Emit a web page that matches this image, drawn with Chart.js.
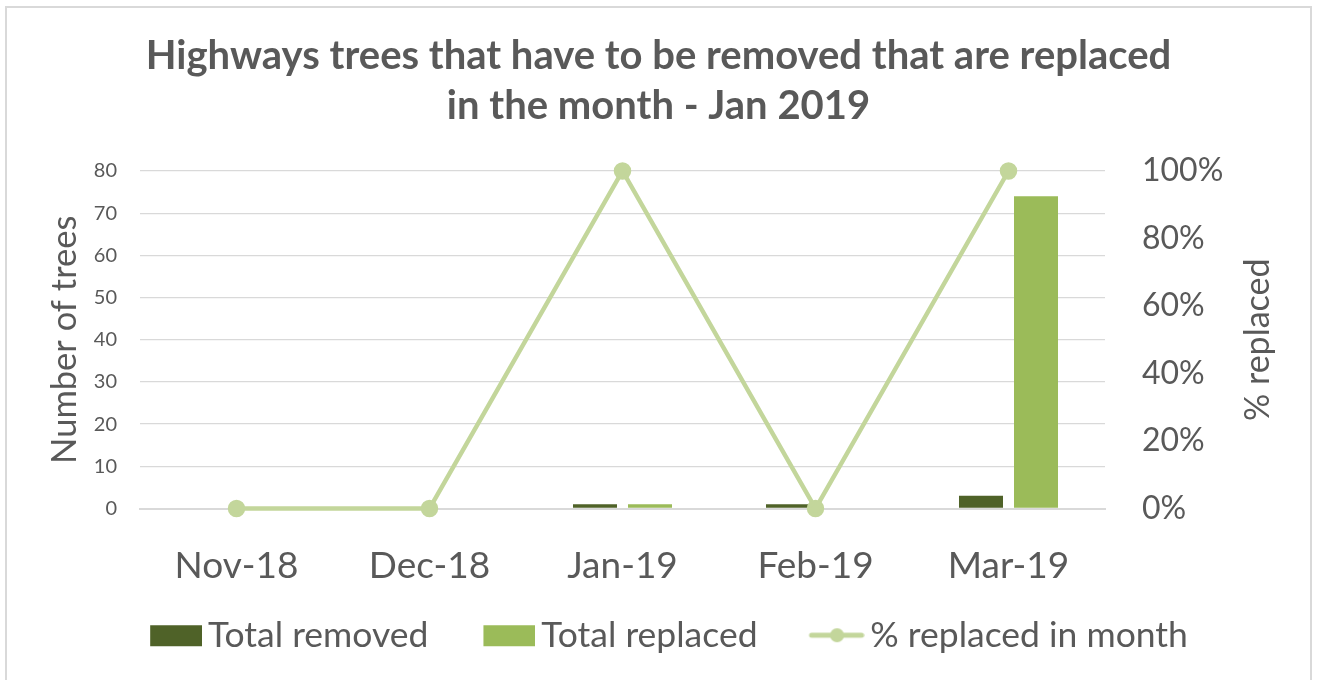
<!DOCTYPE html>
<html lang="en">

<head>
    <meta charset="UTF-8" />
    <title>Highways trees</title>
    <script src="https://cdn.jsdelivr.net/npm/chart.js"></script>
    <style>
        body {
            margin: 0;
            padding: 0;
            background: #fff;
            overflow: hidden;
        }

        .chart-container {
            position: relative;
            width: 1317px;
            height: 680px;
        }

        .frame {
            position: absolute;
            left: 5px;
            top: 6px;
            width: 1303px;
            height: 700px;
            border: 2px solid #d9d9d9;
            pointer-events: none;
        }
    </style>
</head>

<body>
    <div class="chart-container">
        <canvas id="myChart"></canvas>
        <div class="frame"></div>
    </div>

    <script>
        // Chart data
        const months = ["Nov-18", "Dec-18", "Jan-19", "Feb-19", "Mar-19"];
        const totalRemoved = [0, 0, 1, 1, 3];
        const totalReplaced = [0, 0, 1, 0, 74];
        const pctReplaced = [0, 0, 100, 0, 100];
        const treeTicks = [0, 10, 20, 30, 40, 50, 60, 70, 80];
        const pctTicks = [0, 20, 40, 60, 80, 100];

        const textColor = "#595959";
        const darkGreen = "#4f6228";
        const green = "#9bbb59";
        const lightGreen = "#c3d69b";

        Chart.defaults.font.family = "Lato";
        Chart.defaults.color = textColor;

        // legend swatches: drawn at the right of a wider image so the
        // gap to the text is small and the gap to the previous item large
        function swatch(draw) {
            const c = document.createElement("canvas");
            c.width = 85;
            c.height = 24;
            draw(c.getContext("2d"));
            return c;
        }
        const swatches = [
            swatch((g) => { g.fillStyle = darkGreen; g.fillRect(33, 2, 52, 21); }),
            swatch((g) => { g.fillStyle = green; g.fillRect(33, 2, 52, 21); }),
            swatch((g) => {
                g.strokeStyle = lightGreen;
                g.fillStyle = lightGreen;
                g.lineWidth = 5;
                g.lineCap = "round";
                g.beginPath(); g.moveTo(32, 12); g.lineTo(82, 12); g.stroke();
                g.beginPath(); g.arc(57.5, 12, 7, 0, Math.PI * 2); g.fill();
            }),
        ];

        // right axis title reads bottom-to-top like the left one
        const rightTitle = {
            id: "rightTitle",
            afterDraw(chart) {
                const ctx = chart.ctx;
                const area = chart.chartArea;
                ctx.save();
                ctx.translate(1258, (area.top + area.bottom) / 2);
                ctx.rotate(-Math.PI / 2);
                ctx.font = "34px Lato";
                ctx.fillStyle = textColor;
                ctx.textAlign = "center";
                ctx.textBaseline = "middle";
                ctx.fillText("% replaced", 0, 0);
                ctx.restore();
            },
        };

        const ctx = document.getElementById("myChart").getContext("2d");
        const myChart = new Chart(ctx, {
            data: {
                labels: months,
                datasets: [
                    {
                        type: "bar",
                        label: "Total removed",
                        data: totalRemoved,
                        backgroundColor: darkGreen,
                        yAxisID: "y",
                        order: 1,
                        categoryPercentage: 0.57,
                        barPercentage: 0.8,
                    },
                    {
                        type: "bar",
                        label: "Total replaced",
                        data: totalReplaced,
                        backgroundColor: green,
                        yAxisID: "y",
                        order: 1,
                        categoryPercentage: 0.57,
                        barPercentage: 0.8,
                    },
                    {
                        type: "line",
                        label: "% replaced in month",
                        data: pctReplaced,
                        borderColor: lightGreen,
                        backgroundColor: lightGreen,
                        borderWidth: 4.5,
                        pointRadius: 6.5,
                        pointBackgroundColor: lightGreen,
                        pointBorderColor: lightGreen,
                        tension: 0,
                        clip: false,
                        yAxisID: "y1",
                        order: 0,
                    },
                ],
            },
            options: {
                responsive: true,
                maintainAspectRatio: false,
                animation: false,
                layout: {
                    padding: { left: 0, right: 0, top: 0, bottom: 17 },
                },
                plugins: {
                    title: {
                        display: true,
                        text: [
                            "Highways trees that have to be removed that are replaced",
                            "in the month - Jan 2019",
                        ],
                        color: textColor,
                        font: { size: 40, weight: "bold", lineHeight: 1.25 },
                        padding: { top: 31, bottom: 40 },
                    },
                    legend: {
                        position: "bottom",
                        labels: {
                            usePointStyle: true,
                            pointStyleWidth: 61,
                            boxHeight: 24,
                            padding: 34,
                            color: textColor,
                            font: { size: 35.5 },
                            sort: (a, b) => a.datasetIndex - b.datasetIndex,
                            generateLabels(chart) {
                                const items = Chart.defaults.plugins.legend.labels.generateLabels(chart);
                                items.forEach((it) => {
                                    it.pointStyle = swatches[it.datasetIndex];
                                    it.lineWidth = 0;
                                });
                                return items;
                            },
                        },
                    },
                    tooltip: { enabled: false },
                },
                scales: {
                    x: {
                        grid: { display: false },
                        border: { display: true, color: "#d9d9d9", width: 2 },
                        ticks: {
                            padding: 27,
                            color: textColor,
                            font: { size: 37 },
                            maxRotation: 0,
                        },
                        afterFit: (scale) => { scale.height = 75; },
                    },
                    y: {
                        position: "left",
                        min: 0,
                        max: 80,
                        afterBuildTicks: (scale) => {
                            scale.ticks = treeTicks.map((v) => ({ value: v }));
                        },
                        grid: { color: "#d9d9d9", lineWidth: 1.3, drawTicks: false },
                        border: { display: false },
                        ticks: {
                            padding: 23,
                            color: textColor,
                            font: { size: 20 },
                        },
                        title: {
                            display: true,
                            text: "Number of trees",
                            color: textColor,
                            font: { size: 34.5 },
                            padding: { top: 44 },
                        },
                        afterFit: (scale) => { scale.width = 140; },
                    },
                    y1: {
                        position: "right",
                        min: 0,
                        max: 100,
                        afterBuildTicks: (scale) => {
                            scale.ticks = pctTicks.map((v) => ({ value: v }));
                        },
                        grid: { display: false, drawTicks: false },
                        border: { display: false },
                        ticks: {
                            padding: 37,
                            color: textColor,
                            font: { size: 32 },
                            callback: (v) => v + "%",
                        },
                        afterFit: (scale) => { scale.width = 212; },
                    },
                },
            },
            plugins: [rightTitle],
        });
    </script>
</body>

</html>
